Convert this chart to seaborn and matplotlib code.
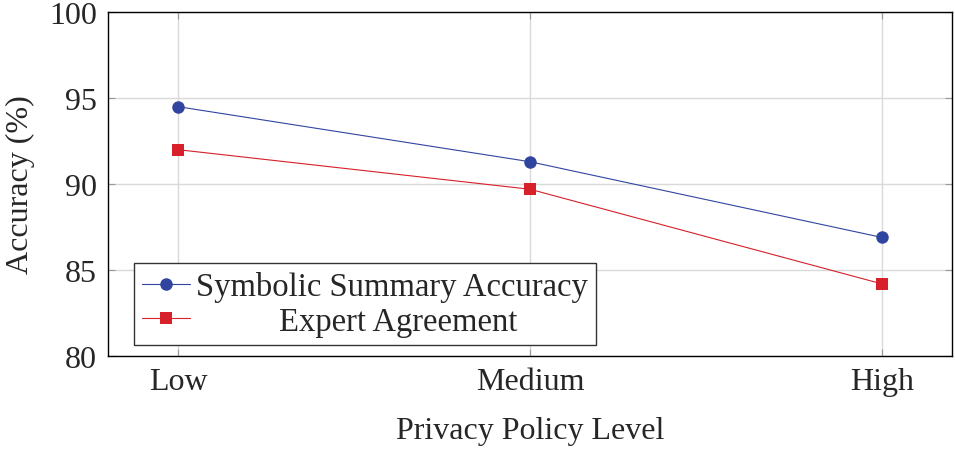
import matplotlib
matplotlib.use("Agg")
import matplotlib.pyplot as plt
import pandas as pd
import seaborn as sns
from matplotlib.offsetbox import DrawingArea

# values
levels = ["Low", "Medium", "High"]
summary_acc = [94.5, 91.3, 86.9]
expert_agree = [92.0, 89.7, 84.2]
series_names = ["Symbolic Summary Accuracy", "Expert Agreement"]

df = pd.DataFrame({
    "level": levels * 2,
    "acc": summary_acc + expert_agree,
    "series": [series_names[0]] * 3 + [series_names[1]] * 3,
})

sns.set_style("whitegrid")
plt.rcParams["font.family"] = ["Liberation Serif", "DejaVu Serif"]

fig = plt.figure(figsize=(9.55, 4.52), dpi=100)
ax = fig.add_axes([0.113, 0.210, 0.884, 0.761])

sns.lineplot(data=df, x="level", y="acc", hue="series", style="series",
             palette=["#3145a0", "#d7202a"], markers=["o", "s"], dashes=False,
             markersize=9, linewidth=0.8, markeredgewidth=0, sort=False, ax=ax)

ax.set_xlim(-0.2, 2.2)
ax.set_ylim(80, 100)
ax.set_yticks([80, 85, 90, 95, 100])
ax.grid(True, color="#d9d9d9", linewidth=1.0)
for s in ax.spines.values():
    s.set_color("black")
    s.set_linewidth(1.0)
ax.tick_params(direction="in", length=5, width=0.8, color="#999999",
               left=True, right=True, top=True, bottom=True,
               labelsize=23, pad=8)
ax.set_xlabel("Privacy Policy Level", fontsize=23, labelpad=14)
ax.set_ylabel("Accuracy (%)", fontsize=23, labelpad=10)

leg = ax.legend(loc="lower left", bbox_to_anchor=(0.031, 0.032), fontsize=23.5,
                frameon=True, fancybox=False, framealpha=1, edgecolor="#333333",
                handlelength=1.45, handletextpad=0.2, labelspacing=0.12,
                borderpad=0.25, borderaxespad=0)
leg.get_frame().set_linewidth(1.0)
for h in leg.legend_handles:
    h.set_markersize(9)

# center the legend texts the way pgfplots does
fig.canvas.draw()
r = fig.canvas.get_renderer()
widths = [t.get_window_extent(r).width for t in leg.get_texts()]
wmax = max(widths)
col = leg._legend_handle_box.get_children()[0]
for item, w in zip(col.get_children(), widths):
    da, ta = item.get_children()
    pad = (wmax - w) / 2 * 72 / fig.dpi
    if pad > 0:
        item._children = [da, DrawingArea(pad, 0), ta]

fig.savefig("out.png", dpi=100)
